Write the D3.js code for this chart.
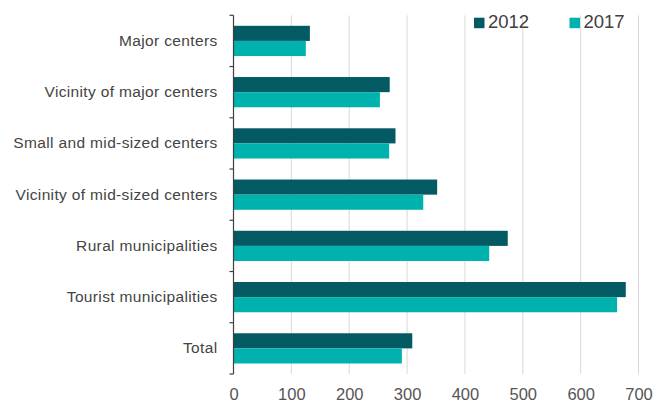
<!DOCTYPE html>
<html><head><meta charset="utf-8">
<script src="https://cdn.jsdelivr.net/npm/d3@7"></script>
<style>body{margin:0;background:#fff}svg{display:block}</style>
</head><body>
<svg id="c" width="667" height="405"></svg>
<script>
const categories = ["Major centers","Vicinity of major centers","Small and mid-sized centers","Vicinity of mid-sized centers","Rural municipalities","Tourist municipalities","Total"];
const series = ["2012","2017"];
const values2012 = [132,270,280,352,474,678,309];
const values2017 = [125,253,269,328,442,663,291];
const xTicks = [0,100,200,300,400,500,600,700];
const colors = ["#035a62","#00b2ad"];

const svg = d3.select("#c");
const mLeft = 233.5, mRight = 638.5, mTop = 15.3, mBottom = 374;
const x = d3.scaleLinear().domain([0,700]).range([mLeft,mRight]);
const y = d3.scaleBand().domain(categories).range([mTop,mBottom]).paddingInner(0.41).paddingOuter(0.205);
const sub = d3.scaleBand().domain(series).range([0,y.bandwidth()]);

// gridlines
svg.append("g").selectAll("line").data(xTicks.slice(1)).join("line")
  .attr("x1",d=>x(d)).attr("x2",d=>x(d)).attr("y1",mTop).attr("y2",mBottom)
  .attr("stroke","#d9d9d9").attr("stroke-width",1);

const data = categories.map((c,i)=>({c, vals:[values2012[i],values2017[i]]}));
const g = svg.append("g");
data.forEach(d=>{
  series.forEach((s,j)=>{
    g.append("rect").attr("x",x(0)).attr("y",y(d.c)+sub(s))
      .attr("width",x(d.vals[j])-x(0)).attr("height",sub.bandwidth())
      .attr("fill",colors[j]);
  });
});

// y axis
const yAxis = d3.axisLeft(y).tickSize(0).tickPadding(16);
const ya = svg.append("g").attr("transform",`translate(${mLeft},0)`).call(yAxis);
ya.select(".domain").remove();
ya.selectAll("text").attr("font-family","Liberation Sans, Arial, sans-serif").attr("font-size",15.5)
  .attr("letter-spacing","0.35px").attr("fill","#444");
svg.append("line").attr("x1",mLeft).attr("x2",mLeft).attr("y1",mTop).attr("y2",mBottom).attr("stroke","#404040").attr("stroke-width",1.2);
// category boundary ticks
const bounds = d3.range(categories.length+1).map(i=>mTop+i*y.step());
svg.append("g").selectAll("line").data(bounds).join("line")
  .attr("x1",mLeft-4).attr("x2",mLeft).attr("y1",d=>d).attr("y2",d=>d)
  .attr("stroke","#404040").attr("stroke-width",1.2);

// x axis labels
const xAxis = d3.axisBottom(x).tickValues(xTicks).tickSize(0).tickPadding(14);
const xa = svg.append("g").attr("transform",`translate(0,${mBottom})`).call(xAxis);
xa.select(".domain").remove();
xa.selectAll("text").attr("font-family","Liberation Sans, Arial, sans-serif").attr("font-size",16.5).attr("fill","#555");

// legend
const legX = [474,569.5];
series.forEach((s,j)=>{
  svg.append("rect").attr("x",legX[j]).attr("y",17.7).attr("width",10.5).attr("height",10.5).attr("fill",colors[j]);
  svg.append("text").attr("x",legX[j]+14).attr("y",27.7).text(s)
    .attr("font-family","Liberation Sans, Arial, sans-serif").attr("font-size",18.5).attr("fill","#404040");
});
</script>
</body></html>
